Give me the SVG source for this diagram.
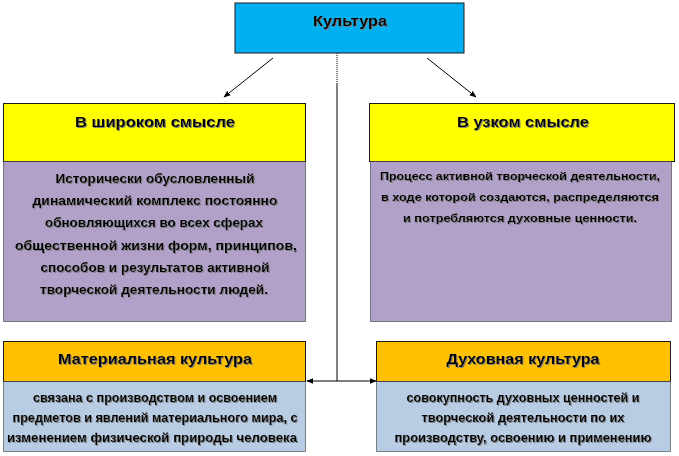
<svg xmlns="http://www.w3.org/2000/svg" width="679" height="456" viewBox="0 0 679 456">
<style>
.box{stroke:#1a1a1a;stroke-width:1}
.dot{stroke:#1a1a1a;stroke-width:1;stroke-dasharray:1 1}
.t{font-family:"Liberation Sans",Arial,sans-serif;font-weight:bold;fill:#000;text-anchor:middle;filter:url(#sh)}
.h{font-size:14px}
.b{font-size:12.5px}
.conn{stroke:#000;stroke-width:1;fill:none}
</style>
<defs>
<filter id="sh" x="-5%" y="-20%" width="110%" height="140%">
<feDropShadow dx="1" dy="1" stdDeviation="0.3" flood-color="#7a7a7a" flood-opacity="0.9"/>
</filter>
<marker id="ah" viewBox="0 0 10 10" refX="9" refY="5" markerWidth="7" markerHeight="7" orient="auto-start-reverse" markerUnits="userSpaceOnUse">
<path d="M0,1 L10,5 L0,9 Z" fill="#000"/>
</marker>
</defs>
<rect width="679" height="456" fill="#fff"/>
<g id="connectors">
<line class="conn" x1="273" y1="58" x2="224" y2="97" marker-end="url(#ah)"/>
<line class="conn" x1="427" y1="58" x2="476" y2="97" marker-end="url(#ah)"/>
<line class="conn" x1="337" y1="53" x2="337" y2="84" stroke-dasharray="1 1"/>
<line class="conn" x1="337" y1="84" x2="337" y2="381"/>
<line class="conn" x1="307" y1="381" x2="376" y2="381" marker-start="url(#ah)" marker-end="url(#ah)"/>
</g>
<g id="kultura">
<rect class="box" x="235" y="3" width="229" height="50" fill="#00B0F0"/>
<text class="t h" x="350" y="26" textLength="74" lengthAdjust="spacingAndGlyphs">Культура</text>
</g>
<g id="shirokom">
<rect class="box" x="3.5" y="103.5" width="302" height="58" fill="#FFFF00"/>
<rect class="dot" x="3.5" y="161.5" width="302" height="160" fill="#B1A0C7"/>
<text class="t h" x="155" y="127" textLength="160" lengthAdjust="spacingAndGlyphs">В широком смысле</text>
<text class="t b" x="155" y="182.5" textLength="199" lengthAdjust="spacingAndGlyphs">Исторически обусловленный</text>
<text class="t b" x="155" y="204.5" textLength="245" lengthAdjust="spacingAndGlyphs">динамический комплекс постоянно</text>
<text class="t b" x="154" y="227" textLength="218" lengthAdjust="spacingAndGlyphs">обновляющихся во всех сферах</text>
<text class="t b" x="156" y="249.5" textLength="282" lengthAdjust="spacingAndGlyphs">общественной жизни форм, принципов,</text>
<text class="t b" x="155" y="271.5" textLength="229" lengthAdjust="spacingAndGlyphs">способов и результатов активной</text>
<text class="t b" x="154" y="294" textLength="228" lengthAdjust="spacingAndGlyphs">творческой деятельности людей.</text>
</g>
<g id="uzkom">
<rect class="box" x="369.5" y="103.5" width="305" height="58" fill="#FFFF00"/>
<rect class="dot" x="370.5" y="161.5" width="301" height="160" fill="#B1A0C7"/>
<text class="t h" x="523" y="127" textLength="132" lengthAdjust="spacingAndGlyphs">В узком смысле</text>
<text class="t b" x="520" y="180" textLength="280" lengthAdjust="spacingAndGlyphs" style="font-size:11.5px">Процесс активной творческой деятельности,</text>
<text class="t b" x="520" y="201" textLength="278" lengthAdjust="spacingAndGlyphs" style="font-size:11.5px">в ходе которой создаются, распределяются</text>
<text class="t b" x="520" y="222" textLength="234" lengthAdjust="spacingAndGlyphs" style="font-size:11.5px">и потребляются духовные ценности.</text>
</g>
<g id="material">
<rect class="box" x="3.5" y="341.5" width="302" height="40" fill="#FFC000"/>
<rect class="dot" x="3.5" y="381.5" width="302" height="70" fill="#B8CCE4"/>
<text class="t h" x="155" y="364" textLength="194" lengthAdjust="spacingAndGlyphs">Материальная культура</text>
<text class="t b" x="155" y="402" textLength="244" lengthAdjust="spacingAndGlyphs" style="font-size:12px">связана  с производством и освоением</text>
<text class="t b" x="155" y="422" textLength="285" lengthAdjust="spacingAndGlyphs" style="font-size:12px">предметов и явлений материального мира, с</text>
<text class="t b" x="152" y="442" textLength="290" lengthAdjust="spacingAndGlyphs" style="font-size:12px">изменением физической природы человека</text>
</g>
<g id="duhovnaya">
<rect class="box" x="376.5" y="341.5" width="294" height="40" fill="#FFC000"/>
<rect class="dot" x="376.5" y="381.5" width="294" height="70" fill="#B8CCE4"/>
<text class="t h" x="523" y="364" textLength="153" lengthAdjust="spacingAndGlyphs">Духовная культура</text>
<text class="t b" x="523" y="402" textLength="233" lengthAdjust="spacingAndGlyphs" style="font-size:12px">совокупность духовных ценностей и</text>
<text class="t b" x="523" y="422" textLength="203" lengthAdjust="spacingAndGlyphs" style="font-size:12px">творческой деятельности по их</text>
<text class="t b" x="523" y="442" textLength="257" lengthAdjust="spacingAndGlyphs" style="font-size:12px">производству, освоению и применению</text>
</g>
</svg>
